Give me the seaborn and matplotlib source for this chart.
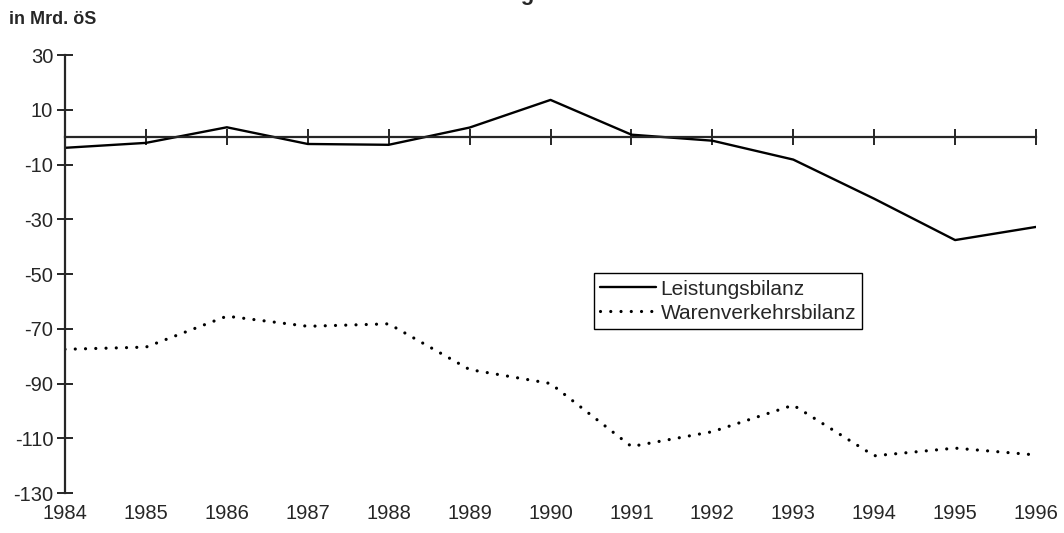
import pandas as pd
import matplotlib.pyplot as plt
import seaborn as sns

# values (in Mrd. öS)
years = [1984, 1985, 1986, 1987, 1988, 1989, 1990, 1991, 1992, 1993, 1994, 1995, 1996]
leistungsbilanz = [-3.9, -2.1, 3.6, -2.5, -2.8, 3.5, 13.6, 0.9, -1.3, -8.2, -22.5, -37.6, -32.8]
warenverkehrsbilanz = [-77.5, -76.7, -65.4, -69.1, -68.2, -84.9, -90.0, -113.0, -107.6, -97.9, -116.4, -113.6, -116.1]
yticks = [30, 10, -10, -30, -50, -70, -90, -110, -130]

df = pd.DataFrame({'Jahr': years,
                   'Leistungsbilanz': leistungsbilanz,
                   'Warenverkehrsbilanz': warenverkehrsbilanz})

sns.set_style('ticks')
plt.rcParams['font.family'] = ['Liberation Sans', 'DejaVu Sans']
plt.rcParams['axes.unicode_minus'] = False

fig = plt.figure(figsize=(10.64, 5.33), dpi=100)
ax = fig.add_axes([0.0611, 0.075, 0.9126, 0.8218])

sns.lineplot(data=df, x='Jahr', y='Leistungsbilanz', ax=ax, color='black',
             linewidth=1.7, label='Leistungsbilanz')
sns.lineplot(data=df, x='Jahr', y='Warenverkehrsbilanz', ax=ax, color='black',
             linewidth=2.3, linestyle=(0, (0.01, 3.2)), dash_capstyle='round',
             label='Warenverkehrsbilanz')

ax.set_xlim(years[0], years[-1])
ax.set_ylim(-130, 30)
ax.set_yticks(yticks)
ax.set_xticks(years)
ax.set_xlabel('')
ax.set_ylabel('')

# x axis runs through zero, year labels sit at the bottom
for s in ['top', 'right']:
    ax.spines[s].set_visible(False)
ax.spines['bottom'].set_position(('data', 0))
ax.spines['bottom'].set_linewidth(1.6)
ax.spines['left'].set_linewidth(1.6)
ax.tick_params(axis='x', direction='inout', length=11, width=1.4, labelbottom=False)
ax.tick_params(axis='y', direction='inout', length=11, width=1.4, labelsize=14.5, pad=3)

sec = ax.secondary_xaxis(0)
sec.set_xticks(years)
sec.set_xticklabels([str(y) for y in years])
sec.spines['bottom'].set_visible(False)
sec.tick_params(length=0, labelsize=14.5, pad=8)

leg = ax.legend(loc='center', bbox_to_anchor=(0.683, 0.438), fontsize=15,
                frameon=True, fancybox=False, edgecolor='black', framealpha=1,
                handlelength=2.7, handletextpad=0.2, borderpad=0.3,
                labelspacing=0.25, borderaxespad=0)
leg.get_frame().set_linewidth(1.0)

fig.text(0.008, 0.9625, 'in Mrd. öS', fontsize=13, fontweight='bold', va='center')
fig.text(0.494, 1.0, 'Leistungsbilanz', fontsize=16, fontweight='bold',
         ha='center', va='baseline')

fig.savefig('out.png', dpi=100)
